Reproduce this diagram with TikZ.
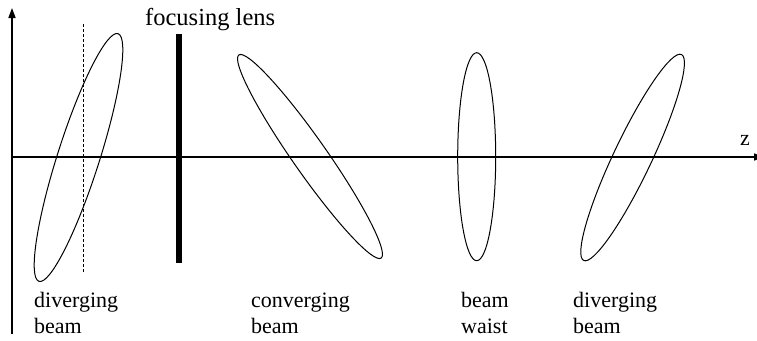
\documentclass[tikz,border=0pt]{standalone}
\usepackage{fontspec}
\setmainfont{Liberation Serif}
\usetikzlibrary{arrows.meta}
\tikzset{
  axisline/.style={line width=1.6pt},
  beamshape/.style={line width=1pt},
  lbl/.style={font=\fontsize{22}{26}\selectfont, align=left, anchor=base west, inner sep=0pt},
}
\begin{document}
\begin{tikzpicture}[x=1pt,y=-1pt]
\useasboundingbox (0,0) rectangle (757,340);
% axes
\coordinate (ybot) at (12,334);
\coordinate (ytop) at (12,8);
\coordinate (zl) at (12,157);
\coordinate (zr) at (764,157);
\draw[axisline,-{Triangle[length=10pt,width=7pt]}] (ybot) -- (ytop);
\draw[axisline,-{Triangle[length=10pt,width=7pt]}] (zl) -- (zr);
\node[font=\fontsize{22}{26}\selectfont, anchor=base west, inner sep=0pt] (z) at (740,145) {z};
% lens
\coordinate (lt) at (179,34);
\coordinate (lb) at (179,263);
\draw[line width=6pt] (lt) -- (lb);
\node[font=\fontsize{24.5}{28}\selectfont, anchor=base west, inner sep=0pt] (lens) at (145,25) {focusing lens};
% dashed line
\coordinate (dt) at (83,24);
\coordinate (db) at (83,273);
\draw[beamshape, dash pattern=on 3pt off 2pt] (dt) -- (db);
% beam ellipses
\draw[beamshape, rotate around={72.3:(78.5,157.5)}] (78.5,157.5) ellipse [x radius=130, y radius=21];
\draw[beamshape, rotate around={-55:(310,156.5)}] (310,156.5) ellipse [x radius=124, y radius=17];
\draw[beamshape] (476.7,156.7) ellipse [x radius=19, y radius=104];
\draw[beamshape, rotate around={64.6:(632.6,157.5)}] (632.6,157.5) ellipse [x radius=114, y radius=19];
% labels
\node[lbl] (l1) at (34,333) {diverging\\beam};
\node[lbl] (l2) at (251,333) {converging\\beam};
\node[lbl] (l3) at (461,333) {beam\\waist};
\node[lbl] (l4) at (573,333) {diverging\\beam};
\end{tikzpicture}
\end{document}
